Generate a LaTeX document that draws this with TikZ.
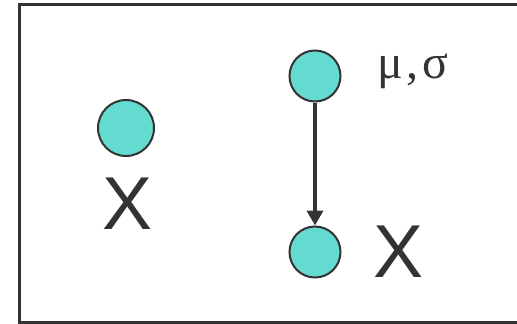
\documentclass[tikz,border=0pt]{standalone}
\usepackage{fontspec}
\setmainfont{Liberation Sans}
\newfontfamily\greekfont{Liberation Serif}
\usetikzlibrary{arrows.meta}

\definecolor{nodefill}{RGB}{100,219,208}
\definecolor{inkgray}{RGB}{51,51,51}

\tikzset{
  var/.style={circle, draw=inkgray, line width=2pt, fill=nodefill, minimum size=#1, inner sep=0pt},
  var/.default=51pt,
  bigx/.style={inkgray, inner sep=0pt, anchor=base, font=\fontsize{75}{75}\selectfont},
}

\begin{document}
\begin{tikzpicture}[x=1pt, y=-1pt, >={Triangle[length=15pt, width=16pt]}]
  \useasboundingbox (0,0) rectangle (517,324);
  % frame
  \draw[inkgray, line width=2.5pt] (19.5,4.5) rectangle (530,322.5);

  % left: a single variable
  \node[var=56pt] (xleft) at (126,128) {};
  \node[bigx] (labxleft) at (128,229) {X};

  % right: parameters and variable
  \node[var] (theta) at (315,76) {};
  \node[var] (xright) at (315,252) {};
  \node[inkgray, inner sep=0pt, anchor=base west, font=\greekfont\fontsize{48}{48}\selectfont] (labtheta) at (377,78) {μ\kern4pt,\kern4ptσ};
  \node[bigx] (labxright) at (399,277) {X};

  \draw[->, inkgray, line width=4pt] (theta) -- (xright);
\end{tikzpicture}
\end{document}
